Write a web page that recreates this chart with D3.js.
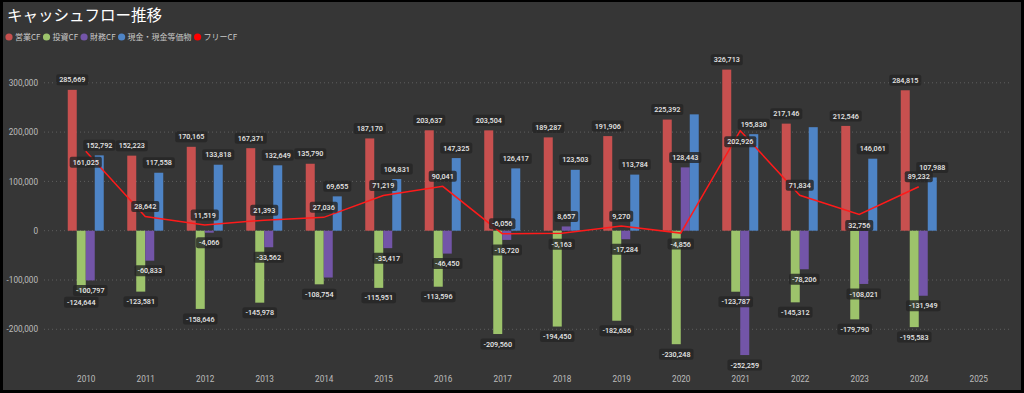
<!DOCTYPE html>
<html>
<head>
<meta charset="utf-8">
<script src="https://cdn.jsdelivr.net/npm/d3@7"></script>
<style>
  body { margin: 0; background: #000; }
  svg { display: block; }
</style>
</head>
<body>
<script>
// data
var years = ["2010", "2011", "2012", "2013", "2014", "2015", "2016", "2017", "2018", "2019", "2020", "2021", "2022", "2023", "2024", "2025"];
var operatingCF = [285669, 152223, 170165, 167371, 135790, 187170, 203637, 203504, 189287, 191906, 225392, 326713, 217146, 212546, 284815, null];
var investingCF = [-124644, -123581, -158646, -145978, -108754, -115951, -113596, -209560, -194450, -182636, -230248, -123787, -145312, -179790, -195583, null];
var financingCF = [-100797, -60833, -4066, -33562, -95000, -35417, -46450, -18720, 8657, -17284, 128443, -252259, -78206, -108021, -131949, null];
var cashBalance = [152792, 117558, 133818, 132649, 69655, 104831, 147325, 126417, 123503, 113784, 236000, 195830, 210000, 146061, 107988, null];
var freeCF = [161025, 28642, 11519, 21393, 27036, 71219, 90041, -6056, -5163, 9270, -4856, 202926, 71834, 32756, 89232, null];
var yTicks = [-200000, -100000, 0, 100000, 200000, 300000];
var freeLabelBelow = ["2010", "2018", "2020", "2021", "2023"];

var barSeries = [
  { name: "営業CF", values: operatingCF, color: "#c8504f" },
  { name: "投資CF", values: investingCF, color: "#9dc36b" },
  { name: "財務CF", values: financingCF, color: "#7355a8" },
  { name: "現金・現金等価物", values: cashBalance, color: "#4e84c6" }
];
var lineColor = "#ff1a1a";

var width = 1024, height = 393;
var fmt = d3.formatLocale({ decimal: ".", thousands: ",", grouping: [3], currency: ["", ""], minus: "-" }).format(",");

var svg = d3.select("body").append("svg")
    .attr("width", width)
    .attr("height", height);

// panel background with dark frame
svg.append("rect")
    .attr("x", 3).attr("y", 2)
    .attr("width", width - 6).attr("height", height - 5)
    .attr("fill", "#363636");

// title
svg.append("text")
    .attr("x", 7).attr("y", 21)
    .attr("fill", "#ffffff")
    .attr("font-family", "'Noto Sans CJK JP', 'Noto Sans', sans-serif")
    .attr("font-size", 15.5)
    .text("キャッシュフロー推移");

// legend
var legendItems = barSeries.map(function(s) { return { name: s.name, color: s.color }; })
    .concat([{ name: "フリーCF", color: "#ff0000" }]);
var lx = 9;
legendItems.forEach(function(d) {
  svg.append("circle")
      .attr("cx", lx).attr("cy", 37).attr("r", 3.6)
      .attr("fill", d.color);
  var t = svg.append("text")
      .attr("x", lx + 6).attr("y", 40)
      .attr("fill", "#c8c8c8")
      .attr("font-family", "'Noto Sans CJK JP', sans-serif")
      .attr("font-size", 8)
      .text(d.name);
  lx += 6 + t.node().getComputedTextLength() + 6;
});

// scales
var x = d3.scalePoint()
    .domain(years)
    .range([56, 1008])
    .padding(0.5);

var xInner = d3.scaleBand()
    .domain(barSeries.map(function(s) { return s.name; }))
    .range([-18, 18]);

var y = d3.scaleLinear()
    .domain([-200000, 300000])
    .range([329.3, 82.8]);

// gridlines
svg.append("g")
    .selectAll("line")
    .data(yTicks)
    .enter().append("line")
    .attr("x1", 44).attr("x2", 1012)
    .attr("y1", function(d) { return y(d); })
    .attr("y2", function(d) { return y(d); })
    .attr("stroke", "#5e5e5e")
    .attr("stroke-width", 1)
    .attr("stroke-dasharray", "1,3");

// y axis
var yAxis = svg.append("g")
    .attr("transform", "translate(40,0)")
    .call(d3.axisLeft(y).tickValues(yTicks).tickFormat(fmt).tickSize(0).tickPadding(2));
yAxis.select(".domain").remove();
yAxis.selectAll("text")
    .attr("fill", "#bdbdbd")
    .attr("font-family", "Roboto, sans-serif")
    .attr("font-size", 8.2);

// x axis
var xAxis = svg.append("g")
    .attr("transform", "translate(0,374)")
    .call(d3.axisBottom(x).tickSize(0).tickPadding(2));
xAxis.select(".domain").remove();
xAxis.selectAll("text")
    .attr("fill", "#bdbdbd")
    .attr("font-family", "Roboto, sans-serif")
    .attr("font-size", 8.2);

// bars
var barData = [];
barSeries.forEach(function(s) {
  s.values.forEach(function(v, i) {
    if (v === null) return;
    barData.push({ series: s.name, color: s.color, year: years[i], value: v });
  });
});

svg.append("g")
    .selectAll("rect")
    .data(barData)
    .enter().append("rect")
    .attr("x", function(d) { return x(d.year) + xInner(d.series); })
    .attr("width", xInner.bandwidth())
    .attr("y", function(d) { return y(Math.max(0, d.value)); })
    .attr("height", function(d) { return Math.abs(y(d.value) - y(0)); })
    .attr("fill", function(d) { return d.color; });

// free cash flow line
var lineData = freeCF.map(function(v, i) { return { year: years[i], value: v }; })
    .filter(function(d) { return d.value !== null; });

svg.append("path")
    .datum(lineData)
    .attr("fill", "none")
    .attr("stroke", lineColor)
    .attr("stroke-width", 1.5)
    .attr("d", d3.line()
        .x(function(d) { return x(d.year); })
        .y(function(d) { return y(d.value); }));

// data labels, hidden when they collide with an earlier one
var labelLayer = svg.append("g");
var placed = [];
var boxH = 11;

function measure(text) {
  var t = labelLayer.append("text")
      .attr("font-family", "Roboto, sans-serif")
      .attr("font-size", 7.2)
      .attr("font-weight", 500)
      .text(text);
  var w = t.node().getComputedTextLength();
  t.remove();
  return w + 6;
}

function overlaps(a) {
  return placed.some(function(b) {
    return a.x0 < b.x1 - 2 && a.x1 > b.x0 + 2 && a.y0 < b.y1 - 1 && a.y1 > b.y0 + 1;
  });
}

function drawLabel(b) {
  labelLayer.append("rect")
      .attr("x", b.x0).attr("y", b.y0)
      .attr("width", b.x1 - b.x0).attr("height", boxH)
      .attr("rx", 2)
      .attr("fill", "#262626")
      .attr("fill-opacity", 0.82);
  labelLayer.append("text")
      .attr("x", (b.x0 + b.x1) / 2)
      .attr("y", b.y0 + boxH / 2 + 2.6)
      .attr("text-anchor", "middle")
      .attr("fill", "#e8e8e8")
      .attr("font-family", "Roboto, sans-serif")
      .attr("font-size", 7.2)
      .attr("font-weight", 500)
      .text(b.text);
}

var labels = [];
barSeries.forEach(function(s) {
  s.values.forEach(function(v, i) {
    if (v === null) return;
    var cx = x(years[i]) + xInner(s.name) + xInner.bandwidth() / 2;
    var cy = v >= 0 ? y(v) - 10 : y(v) + 10;
    var w = measure(fmt(v));
    var b = { text: fmt(v), x0: cx - w / 2, x1: cx + w / 2, y0: cy - boxH / 2, y1: cy + boxH / 2 };
    if (!overlaps(b)) { placed.push(b); labels.push(b); }
  });
});

lineData.forEach(function(d) {
  var cx = x(d.year);
  var cy = freeLabelBelow.indexOf(d.year) >= 0 ? y(d.value) + 11 : y(d.value) - 10;
  var w = measure(fmt(d.value));
  var b = { text: fmt(d.value), x0: cx - w / 2, x1: cx + w / 2, y0: cy - boxH / 2, y1: cy + boxH / 2 };
  placed.push(b);
  labels.push(b);
});

labels.forEach(drawLabel);
</script>
</body>
</html>
